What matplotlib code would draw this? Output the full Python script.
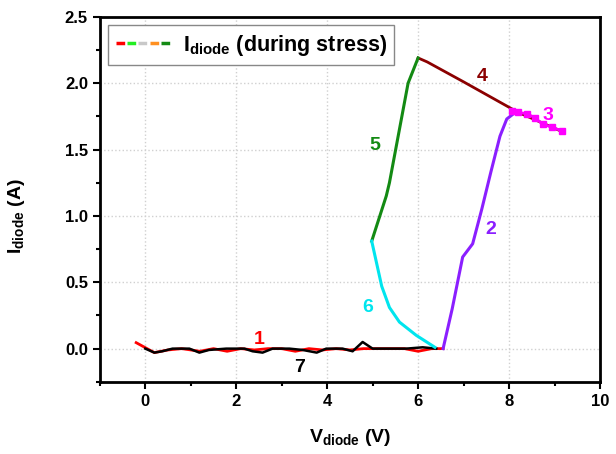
import matplotlib
matplotlib.use('Agg')
import matplotlib.pyplot as plt
from matplotlib.lines import Line2D
from matplotlib.legend_handler import HandlerTuple
from matplotlib.ticker import MultipleLocator

plt.rcParams['font.family'] = ['Liberation Sans', 'DejaVu Sans']
plt.rcParams['font.weight'] = 'bold'
plt.rcParams['mathtext.fontset'] = 'custom'
plt.rcParams['mathtext.rm'] = 'Liberation Sans:bold'
plt.rcParams['mathtext.bf'] = 'Liberation Sans:bold'
plt.rcParams['mathtext.it'] = 'Liberation Sans:bold'

# segment 1 (red)
v1 = [-0.2, 0.2, 0.5, 0.8, 1.0, 1.2, 1.5, 1.8, 2.1, 2.4, 2.7, 3.0, 3.3, 3.6, 3.9, 4.2,
      4.5, 4.8, 5.1, 5.4, 5.7, 6.0, 6.3, 6.55]
i1 = [0.045, -0.03, -0.01, 0.0, -0.01, -0.02, 0.0, -0.02, 0.0, -0.01, 0.0, 0.0, -0.02,
      0.0, -0.01, 0.0, -0.01, 0.0, 0.0, 0.0, 0.0, -0.02, 0.0, 0.0]
# segment 7 (black)
v7 = [0.0, 0.2, 0.37, 0.6, 0.97, 1.19, 1.4, 1.78, 2.18, 2.36, 2.58, 2.8, 3.17, 3.46,
      3.77, 3.98, 4.34, 4.56, 4.78, 5.0, 5.37, 5.74, 6.1, 6.4]
i7 = [0.0, -0.03, -0.02, 0.0, 0.0, -0.03, -0.01, 0.0, 0.0, -0.02, -0.03, 0.0, 0.0,
      -0.01, -0.03, 0.0, 0.0, -0.02, 0.05, 0.0, 0.0, 0.0, 0.01, 0.0]
# segment 2 (violet)
v2 = [6.55, 6.75, 6.98, 7.2, 7.4, 7.6, 7.8, 7.95, 8.1]
i2 = [0.0, 0.3, 0.69, 0.79, 1.05, 1.33, 1.6, 1.73, 1.77]
# segment 3 (magenta, squares)
v3 = [8.06, 8.19, 8.39, 8.57, 8.74, 8.94, 9.16]
i3 = [1.79, 1.78, 1.77, 1.74, 1.69, 1.67, 1.64]
# segment 4 (dark red)
v4 = [6.0, 6.2, 7.0, 8.2, 9.2]
i4 = [2.19, 2.16, 2.01, 1.78, 1.63]
# segment 5 (green)
v5 = [4.98, 5.3, 5.37, 5.78, 6.0]
i5 = [0.81, 1.15, 1.25, 2.0, 2.19]
# segment 6 (cyan)
v6 = [4.98, 5.2, 5.37, 5.59, 5.96, 6.37]
i6 = [0.81, 0.47, 0.31, 0.2, 0.1, 0.01]

fig = plt.figure(figsize=(6.16, 4.54), dpi=100)
ax = fig.add_axes([0.162, 0.159, 0.812, 0.804])

ax.plot(v1, i1, color='#ff0000', lw=2)
ax.plot(v7, i7, color='black', lw=1.8)
ax.plot(v2, i2, color='#8b1fff', lw=2.2)
ax.plot(v4, i4, color='#8b0000', lw=2)
ax.plot(v3, i3, color='#ff00ff', lw=2, marker='s', ms=4)
ax.plot(v5, i5, color='#138a13', lw=2.2)
ax.plot(v6, i6, color='#00e5ee', lw=2.2)

labels = [('1', 2.5, 0.07, '#ff0000'), ('7', 3.4, -0.14, 'black'),
          ('2', 7.6, 0.9, '#8b1fff'), ('3', 8.85, 1.76, '#ff00ff'),
          ('4', 7.4, 2.05, '#8b0000'), ('5', 5.05, 1.53, '#138a13'),
          ('6', 4.9, 0.31, '#00e5ee')]
for t, x, y, c in labels:
    ax.text(x, y, t, color=c, fontsize=14, fontweight='bold', ha='center', va='center')

ax.set_xlim(-1, 10)
ax.set_ylim(-0.25, 2.5)
ax.xaxis.set_major_locator(MultipleLocator(2))
ax.xaxis.set_minor_locator(MultipleLocator(1))
ax.yaxis.set_major_locator(MultipleLocator(0.5))
ax.yaxis.set_minor_locator(MultipleLocator(0.25))
ax.yaxis.set_major_formatter(matplotlib.ticker.FormatStrFormatter('%.1f'))
ax.tick_params(which='both', direction='out', width=1.5, labelsize=12, top=False, right=False)
ax.tick_params(which='major', length=5)
ax.tick_params(which='minor', length=3)
for s in ax.spines.values():
    s.set_linewidth(2)
ax.grid(True, which='major', color='#d0d0d0', linestyle=':', linewidth=1)

ax.set_xlabel(r'V$_{\mathrm{diode}}$ (V)', fontsize=14, fontweight='bold')
ax.xaxis.set_label_coords(0.5, -0.125)
ax.set_ylabel(r'I$_{\mathrm{diode}}$ (A)', fontsize=14, fontweight='bold')
ax.yaxis.set_label_coords(-0.146, 0.453)

leg_colors = ['#ff0000', '#22ee22', '#c8c8c8', '#ff9020', '#138a13']
handles = tuple(Line2D([], [], color=c, lw=2.5, linestyle=(0, (2.5, 1))) for c in leg_colors)
ax.legend([handles], [r'I$_{\mathrm{diode}}$ (during stress)'],
          handler_map={tuple: HandlerTuple(ndivide=None, pad=0.0)},
          loc='upper left', fontsize=15.5, handlelength=2.6, fancybox=False,
          edgecolor='#888888', framealpha=1, borderpad=0.35, handletextpad=0.5,
          borderaxespad=0.4)

fig.savefig('out.png', dpi=100)
